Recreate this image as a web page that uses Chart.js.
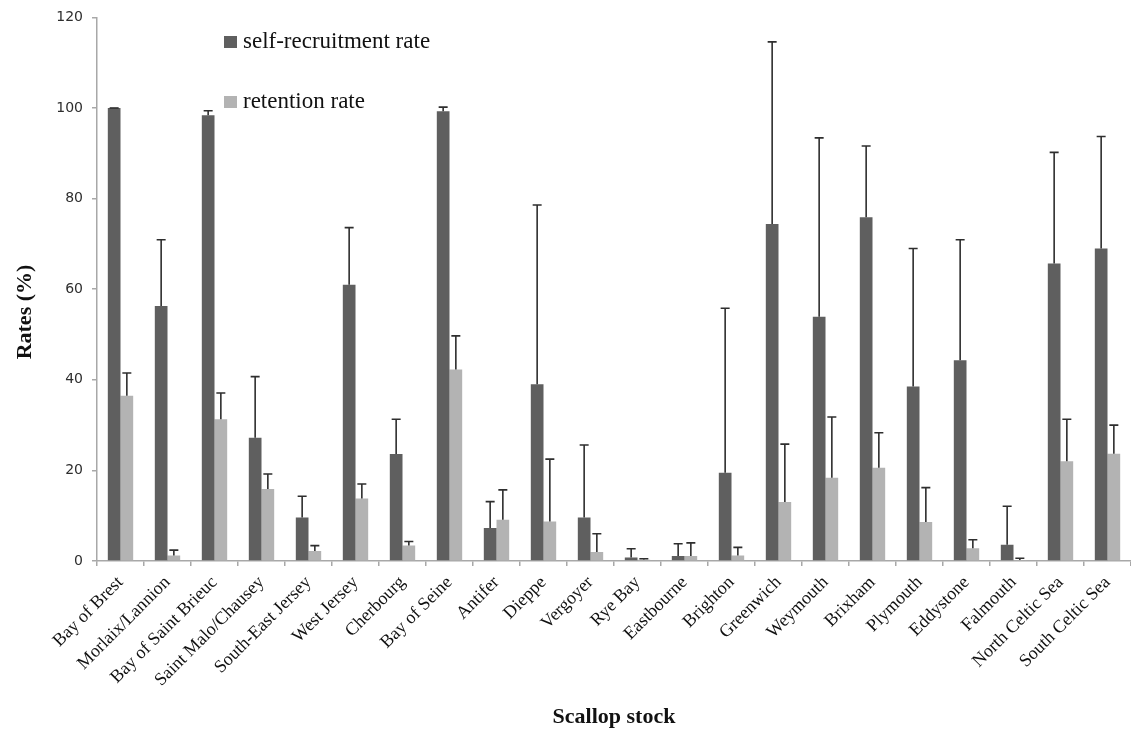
<!DOCTYPE html>
<html>
<head>
<meta charset="utf-8">
<title>Self-recruitment and retention rates by scallop stock</title>
<script src="https://cdn.jsdelivr.net/npm/chart.js@4.4.1/dist/chart.umd.min.js"></script>
<style>
  html, body { margin: 0; padding: 0; background: #ffffff; }
  #wrap { width: 1131px; height: 735px; position: relative; }
</style>
</head>
<body>
<div id="wrap"><canvas id="chart" width="1131" height="735"></canvas></div>
<script>
// Scallop stocks, west to east along the Channel and into the Celtic Sea
const stocks = [
  'Bay of Brest', 'Morlaix/Lannion', 'Bay of Saint Brieuc', 'Saint Malo/Chausey',
  'South-East Jersey', 'West Jersey', 'Cherbourg', 'Bay of Seine', 'Antifer',
  'Dieppe', 'Vergoyer', 'Rye Bay', 'Eastbourne', 'Brighton', 'Greenwich',
  'Weymouth', 'Brixham', 'Plymouth', 'Eddystone', 'Falmouth',
  'North Celtic Sea', 'South Celtic Sea'
];

// Self-recruitment rate (%) and its upper error
const selfRecruitment = [
  100, 56.3, 98.4, 27.2, 9.6, 61.0, 23.6, 99.3, 7.3, 39.0, 9.6,
  0.8, 1.1, 19.5, 74.4, 53.9, 75.9, 38.5, 44.3, 3.6, 65.7, 69.0
];
const selfRecruitmentErr = [
  0, 14.6, 1.0, 13.5, 4.7, 12.6, 7.7, 0.9, 5.8, 39.6, 16.0,
  1.9, 2.7, 36.3, 40.2, 39.5, 15.7, 30.5, 26.6, 8.5, 24.5, 24.7
];

// Retention rate (%) and its upper error
const retention = [
  36.5, 1.2, 31.3, 15.9, 2.2, 13.8, 3.4, 42.3, 9.1, 8.7, 2.0,
  0.3, 1.1, 1.2, 13.0, 18.4, 20.6, 8.6, 2.8, 0.2, 22.0, 23.7
];
const retentionErr = [
  5.0, 1.2, 5.8, 3.3, 1.2, 3.2, 0.9, 7.4, 6.6, 13.8, 4.0,
  0.2, 2.9, 1.8, 12.8, 13.4, 7.7, 7.6, 1.9, 0.4, 9.3, 6.3
];

const seriesNames = ['self-recruitment rate', 'retention rate'];
const yTitle = 'Rates (%)';
const xTitle = 'Scallop stock';

const SERIF = '"Liberation Serif", "Times New Roman", serif';
const DARK = '#5f5f5f';
const LIGHT = '#b3b3b3';
const AXIS = '#a8a8a8';

// Upper whiskers with a short cap on every bar
const errorBars = {
  id: 'errorBars',
  afterDatasetsDraw(chart) {
    const ctx = chart.ctx;
    const yScale = chart.scales.y;
    chart.data.datasets.forEach((ds, di) => {
      const meta = chart.getDatasetMeta(di);
      if (meta.hidden) return;
      ctx.save();
      ctx.strokeStyle = '#2e2e2e';
      ctx.lineWidth = 1.6;
      meta.data.forEach((bar, i) => {
        const top = yScale.getPixelForValue(ds.data[i] + ds.errors[i]);
        const x = bar.x;
        ctx.beginPath();
        ctx.moveTo(x, bar.y);
        ctx.lineTo(x, top);
        ctx.moveTo(x - 4.5, top);
        ctx.lineTo(x + 4.5, top);
        ctx.stroke();
      });
      ctx.restore();
    });
  }
};

// Series key placed inside the plot, upper left
const insideKey = {
  id: 'insideKey',
  afterDraw(chart) {
    const ctx = chart.ctx;
    const rows = [42, 102];
    ctx.save();
    ctx.font = '23px ' + SERIF;
    ctx.textBaseline = 'middle';
    ctx.textAlign = 'left';
    chart.data.datasets.forEach((ds, i) => {
      const cy = rows[i];
      ctx.fillStyle = ds.backgroundColor;
      ctx.fillRect(224, cy - 6, 13, 12);
      ctx.fillStyle = '#111111';
      ctx.fillText(ds.label, 243, cy);
    });
    ctx.restore();
  }
};

// Vertical axis title
const sideTitle = {
  id: 'sideTitle',
  afterDraw(chart) {
    const ctx = chart.ctx;
    ctx.save();
    ctx.translate(25, 312);
    ctx.rotate(-Math.PI / 2);
    ctx.font = 'bold 22px ' + SERIF;
    ctx.fillStyle = '#111111';
    ctx.textAlign = 'center';
    ctx.textBaseline = 'middle';
    ctx.fillText(yTitle, 0, 0);
    ctx.restore();
  }
};

new Chart(document.getElementById('chart'), {
  type: 'bar',
  data: {
    labels: stocks,
    datasets: [
      { label: seriesNames[0], data: selfRecruitment, errors: selfRecruitmentErr,
        backgroundColor: DARK, borderWidth: 0 },
      { label: seriesNames[1], data: retention, errors: retentionErr,
        backgroundColor: LIGHT, borderWidth: 0 }
    ]
  },
  options: {
    responsive: false,
    animation: false,
    devicePixelRatio: 1,
    layout: { padding: { top: 16, right: 0, bottom: 0, left: 0 } },
    datasets: { bar: { categoryPercentage: 0.54, barPercentage: 1.0 } },
    plugins: {
      legend: { display: false },
      tooltip: { enabled: false },
      title: { display: false }
    },
    scales: {
      x: {
        offset: true,
        grid: { display: true, drawOnChartArea: false, drawTicks: true,
                tickLength: 5, offset: true, color: AXIS, lineWidth: 1.5 },
        border: { display: true, color: AXIS, width: 1.5 },
        ticks: {
          autoSkip: false, minRotation: 45, maxRotation: 45, padding: 6,
          color: '#111111', font: { family: SERIF, size: 18 }
        },
        title: {
          display: true, text: xTitle, color: '#111111',
          font: { family: SERIF, size: 22, weight: 'bold' },
          padding: { top: 0, bottom: 4 }
        },
        afterFit(scale) { scale.height = 174; }
      },
      y: {
        min: 0, max: 120,
        grid: { display: true, drawOnChartArea: false, drawTicks: true,
                tickLength: 5, color: AXIS, lineWidth: 1.5 },
        border: { display: true, color: AXIS, width: 1.5 },
        ticks: {
          stepSize: 20, padding: 9, color: '#2e2e2e',
          font: { family: '"DejaVu Sans", Verdana, sans-serif', size: 14 }
        },
        afterFit(scale) { scale.width = 97; }
      }
    }
  },
  plugins: [errorBars, insideKey, sideTitle]
});
</script>
</body>
</html>
